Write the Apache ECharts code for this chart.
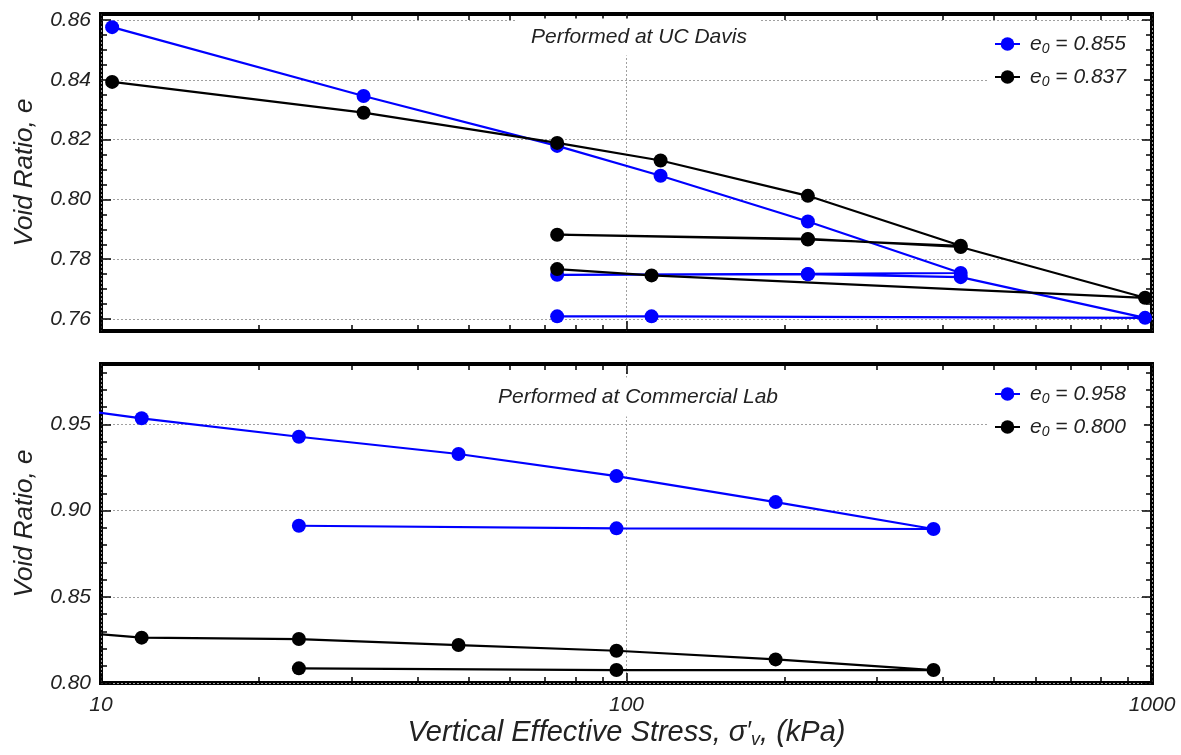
<!DOCTYPE html>
<html><head><meta charset="utf-8">
<script src="https://cdn.jsdelivr.net/npm/echarts@6/dist/echarts.min.js"></script>
<style>html,body{margin:0;padding:0;background:#fff}#c{width:1181px;height:755px}</style>
</head><body><div id="c"></div>
<script>
// ---------- data ----------
// Top panel: Performed at UC Davis
const ucdStress      = [10.5, 31.6, 73.8, 116.1, 221.4, 432.5, 221.4, 73.8, 221.4, 432.5, 970, 111.6, 73.8];
const ucdBlueVoid    = [0.8576, 0.8346, 0.8179, 0.8079, 0.7926, 0.7754, 0.7751, 0.7748, 0.7750, 0.7740, 0.7604, 0.7609, 0.7609];
const ucdBlackVoid   = [0.8393, 0.8290, 0.8189, 0.8130, 0.8012, 0.7845, 0.7866, 0.7882, 0.7868, 0.7841, 0.7671, 0.7746, 0.7767];
// Bottom panel: Performed at Commercial Lab
const labStress      = [9.3, 11.95, 23.8, 47.9, 95.7, 192.2, 383.9, 95.7, 23.8];
const labBlueVoid    = [0.958, 0.9535, 0.9428, 0.9328, 0.9200, 0.9049, 0.8893, 0.8897, 0.8912];
const labBlackVoid   = [0.829, 0.8263, 0.8255, 0.8220, 0.8187, 0.8137, 0.8075, 0.8075, 0.8085];

const seriesNames = ['e0 = 0.855', 'e0 = 0.837', 'e0 = 0.958', 'e0 = 0.800'];
const panelTitles = ['Performed at UC Davis', 'Performed at Commercial Lab'];

// ticks
const xMajorTicks = [10, 100, 1000];
const xMinorTicks = [20, 30, 40, 50, 60, 70, 80, 90, 200, 300, 400, 500, 600, 700, 800, 900];
const topYMajor = [0.76, 0.78, 0.80, 0.82, 0.84, 0.86];
const botYMajor = [0.80, 0.85, 0.90, 0.95];
const topYMinor = []; for (let i = 0; i <= 20; i++) topYMinor.push(+(0.76 + i * 0.005).toFixed(3));
const botYMinor = []; for (let i = 0; i <= 18; i++) botYMinor.push(+(0.80 + i * 0.01).toFixed(2));
const yRanges = [[0.756, 0.862], [0.80, 0.985]];

// ---------- chart ----------
const FONT = "'Liberation Sans', Arial, Helvetica, sans-serif";
const TXT = '#222';
const pair = (xs, ys) => xs.map((x, i) => [x, ys[i]]);

const grids = [
  {left: 101, width: 1051, top: 14, height: 317, show: true, borderColor: '#000', borderWidth: 4},
  {left: 101, width: 1051, top: 364, height: 319, show: true, borderColor: '#000', borderWidth: 4}
];

const xAxes = [], yAxes = [];
function xAx(gi, pos, vals, len, main) {
  const a = {
    type: 'log', logBase: 10, gridIndex: gi, position: pos, min: 10, max: 1000,
    axisLine: {show: false},
    axisTick: {show: true, inside: true, length: len, customValues: vals, lineStyle: {color: '#000', width: 1.5}},
    minorTick: {show: false},
    axisLabel: {show: false},
    splitLine: {show: false}
  };
  if (main) {
    a.splitLine = {show: true, lineStyle: {color: '#a0a0a0', type: [2, 2], width: 1}};
    if (gi === 1) {
      a.axisLabel = {show: true, customValues: xMajorTicks, margin: 12, formatter: v => String(Math.round(v)),
        fontFamily: FONT, fontStyle: 'italic', fontSize: 21, color: TXT};
      a.name = '{a|Vertical Effective Stress, σ}{p|′}{v|v}{a|, (kPa)}';
      a.nameLocation = 'middle';
      a.nameGap = 33;
      a.nameTextStyle = {fontFamily: FONT, fontStyle: 'italic', fontSize: 29, color: TXT,
        rich: {
          a: {fontFamily: FONT, fontStyle: 'italic', fontSize: 29, color: TXT, lineHeight: 33},
          p: {fontFamily: FONT, fontStyle: 'italic', fontSize: 25, color: TXT, lineHeight: 33},
          v: {fontFamily: FONT, fontStyle: 'italic', fontSize: 18, color: TXT, lineHeight: 18, verticalAlign: 'bottom'}
        }};
    }
  }
  xAxes.push(a);
  return xAxes.length - 1;
}
function yAx(gi, pos, vals, len, main) {
  const a = {
    type: 'value', gridIndex: gi, position: pos, min: yRanges[gi][0], max: yRanges[gi][1],
    axisLine: {show: false},
    axisTick: {show: true, inside: true, length: len, customValues: vals, lineStyle: {color: '#000', width: 1.5}},
    axisLabel: {show: false},
    splitLine: {show: false}
  };
  if (main) {
    a.splitLine = {show: true, lineStyle: {color: '#a0a0a0', type: [2, 2], width: 1}};
    a.axisLabel = {show: true, customValues: vals, margin: 10, formatter: v => v.toFixed(2),
      fontFamily: FONT, fontStyle: 'italic', fontSize: 21, color: TXT};
    a.name = 'Void Ratio, e';
    a.nameLocation = 'middle';
    a.nameRotate = 90;
    a.nameGap = 63;
    a.nameTextStyle = {fontFamily: FONT, fontStyle: 'italic', fontSize: 26, color: TXT};
  }
  yAxes.push(a);
  return yAxes.length - 1;
}

const mainX = [], mainY = [];
[0, 1].forEach(gi => {
  const yMaj = gi === 0 ? topYMajor : botYMajor;
  const yMin = gi === 0 ? topYMinor : botYMinor;
  mainX.push(xAx(gi, 'bottom', xMajorTicks, 10, true));
  xAx(gi, 'bottom', xMinorTicks, 6, false);
  xAx(gi, 'top', xMajorTicks, 10, false);
  xAx(gi, 'top', xMinorTicks, 6, false);
  mainY.push(yAx(gi, 'left', yMaj, 10, true));
  yAx(gi, 'left', yMin, 6, false);
  yAx(gi, 'right', yMaj, 10, false);
  yAx(gi, 'right', yMin, 6, false);
});

function ser(name, gi, color, data) {
  return {
    name, type: 'line', xAxisIndex: mainX[gi], yAxisIndex: mainY[gi], data,
    symbol: 'circle', symbolSize: 14, showSymbol: true, clip: true,
    lineStyle: {color, width: 2.2}, itemStyle: {color},
    emphasis: {disabled: true}, z: 3
  };
}

const legendFmt = n => '{e|e}{s|0}{e|' + n.slice(2) + '}';
const legendText = {
  fontFamily: FONT, fontStyle: 'italic', fontSize: 21, color: TXT, lineHeight: 24, padding: [0, 0, 0, 5],
  rich: {
    e: {fontFamily: FONT, fontStyle: 'italic', fontSize: 21, color: TXT, lineHeight: 24},
    s: {fontFamily: FONT, fontStyle: 'italic', fontSize: 14, color: TXT, lineHeight: 13, verticalAlign: 'bottom'}
  }
};
function legend(names, top) {
  return {
    data: names, orient: 'vertical', left: 987, top, padding: [8, 18, 8, 7],
    itemWidth: 25, itemHeight: 17, itemGap: 9, backgroundColor: '#fff',
    formatter: legendFmt, textStyle: legendText, selectedMode: false
  };
}

const option = {
  animation: false,
  backgroundColor: '#fff',
  grid: grids,
  xAxis: xAxes,
  yAxis: yAxes,
  legend: [legend([seriesNames[0], seriesNames[1]], 24), legend([seriesNames[2], seriesNames[3]], 374)],
  graphic: [
    {type: 'text', z: 10, x: 639, y: 37, style: {text: panelTitles[0], font: 'italic 21px ' + FONT, fill: TXT,
      align: 'center', verticalAlign: 'middle', backgroundColor: '#fff', padding: [8, 14]}},
    {type: 'text', z: 10, x: 638, y: 397, style: {text: panelTitles[1], font: 'italic 21px ' + FONT, fill: TXT,
      align: 'center', verticalAlign: 'middle', backgroundColor: '#fff', padding: [9, 14]}}
  ],
  series: [
    ser(seriesNames[0], 0, '#0000ff', pair(ucdStress, ucdBlueVoid)),
    ser(seriesNames[1], 0, '#000000', pair(ucdStress, ucdBlackVoid)),
    ser(seriesNames[2], 1, '#0000ff', pair(labStress, labBlueVoid)),
    ser(seriesNames[3], 1, '#000000', pair(labStress, labBlackVoid))
  ]
};
const chart = echarts.init(document.getElementById('c'), null, {renderer: 'canvas'});
chart.setOption(option);
</script></body></html>
